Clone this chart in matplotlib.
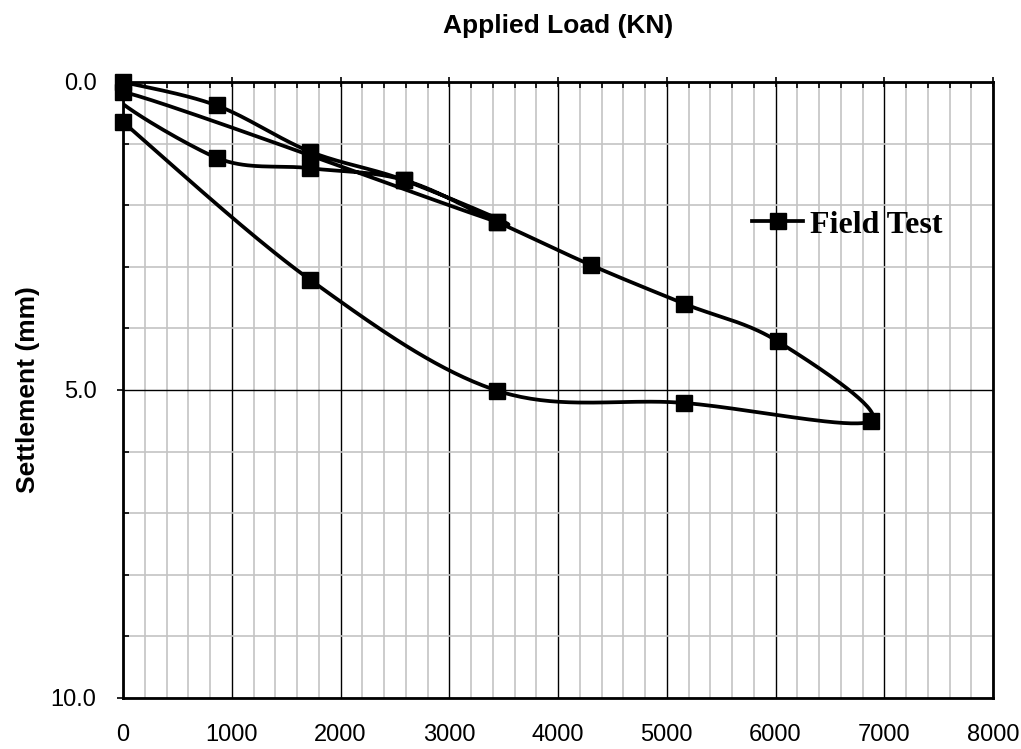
import numpy as np
import matplotlib
matplotlib.use("Agg")
import matplotlib.pyplot as plt
from matplotlib.ticker import MultipleLocator, FormatStrFormatter

# Load-settlement record of the pile load test, in test order
# (first loading cycle, unload, reload to max, final unloading).
load_kn = [0, 860, 1720, 2580, 3440, 0, 860, 1720, 2580, 3440, 4300, 5160,
           6020, 6880, 5160, 3440, 1720, 0]
settlement_mm = [0.0, 0.38, 1.13, 1.59, 2.27, 0.16, 1.23, 1.40, 1.59, 2.27, 2.97,
                 3.60, 4.21, 5.50, 5.21, 5.01, 3.21, 0.65]
series_label = "Field Test"

X_MAX, Y_MAX = 8000, 10.0

SANS = ["Liberation Sans", "DejaVu Sans"]
SERIF = ["Liberation Serif", "DejaVu Serif"]


def smooth(xs, ys, sx, sy, n=40):
    # Excel-style smoothed line: Catmull-Rom, done in (roughly) pixel space
    p = np.column_stack([np.asarray(xs, float) * sx, np.asarray(ys, float) * sy])
    p = np.vstack([p[0], p, p[-1]])
    t = np.linspace(0, 1, n)[:, None]
    out = []
    for i in range(1, len(p) - 2):
        p0, p1, p2, p3 = p[i - 1], p[i], p[i + 1], p[i + 2]
        c1 = p1 + (p2 - p0) / 6
        c2 = p2 - (p3 - p1) / 6
        seg = ((1 - t) ** 3) * p1 + 3 * ((1 - t) ** 2) * t * c1 + 3 * (1 - t) * t ** 2 * c2 + t ** 3 * p2
        out.append(seg if i == 1 else seg[1:])
    out = np.vstack(out)
    return out[:, 0] / sx, out[:, 1] / sy


fig = plt.figure(figsize=(10.21, 7.49), dpi=100)
ax = fig.add_axes([123 / 1021, 1 - 698 / 749, 870 / 1021, 616 / 749])

# spine lengths in px, so the smoothing is done in a square space
sx, sy = 870 / X_MAX, 616 / Y_MAX
cx, cy = smooth(load_kn, settlement_mm, sx, sy)
ax.plot(cx, cy, color="black", lw=2.7, solid_capstyle="round", zorder=3)
ax.plot(load_kn, settlement_mm, ls="none", marker="s", ms=12, color="black",
        zorder=4, clip_on=False)
# legend proxy: line + marker
ax.plot([], [], color="black", lw=2.7, marker="s", ms=12, label=series_label)

ax.set_xlim(0, X_MAX)
ax.set_ylim(Y_MAX, 0)
ax.xaxis.set_major_locator(MultipleLocator(1000))
ax.xaxis.set_minor_locator(MultipleLocator(200))
ax.yaxis.set_major_locator(MultipleLocator(5))
ax.yaxis.set_minor_locator(MultipleLocator(1))
ax.yaxis.set_major_formatter(FormatStrFormatter("%.1f"))

ax.set_axisbelow(True)
ax.grid(which="minor", color="#c4c4c4", lw=1.2)
ax.grid(which="major", color="black", lw=1.0)

ax.tick_params(axis="x", which="both", bottom=False, top=True, labelbottom=True,
               labeltop=False, color="black")
ax.tick_params(axis="x", which="major", direction="inout", length=7, width=1.2, pad=15)
ax.tick_params(axis="x", which="minor", direction="in", length=4, width=1.2)
ax.tick_params(axis="y", which="major", direction="out", length=4, width=1.2, pad=15)
ax.tick_params(axis="y", which="minor", direction="in", length=4, width=1.2)

for lab in ax.get_xticklabels() + ax.get_yticklabels():
    lab.set_family(SANS)
    lab.set_fontsize(17)

for side in ["left", "right", "top", "bottom"]:
    ax.spines[side].set_color("black")
    ax.spines[side].set_linewidth(2.0)

fig.text(558 / 1021, 1 - 33 / 749, "Applied Load (KN)", ha="center", va="baseline",
         family=SANS, fontsize=19, fontweight="bold")
fig.text(28 / 1021, 1 - 390 / 749, "Settlement (mm)", ha="center", va="center",
         rotation=90, family=SANS, fontsize=19, fontweight="bold")

ax.legend(loc="center left", bbox_to_anchor=(0.723, 0.768), frameon=False,
          borderpad=0, borderaxespad=0, handlelength=1.6, handletextpad=0.2,
          prop={"family": SERIF, "weight": "bold", "size": 23})

fig.savefig("out.png", dpi=100, facecolor="white")
